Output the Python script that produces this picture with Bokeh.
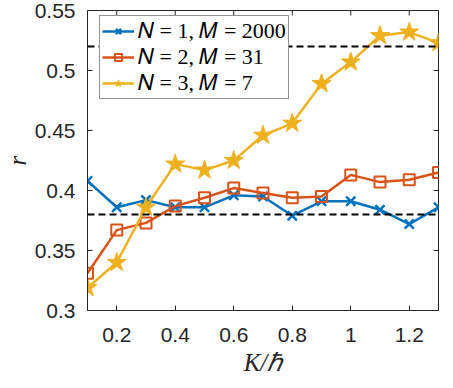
import math
from bokeh.plotting import figure
from bokeh.models import Span, FixedTicker, Range1d, Legend, LegendItem
from bokeh.embed import file_html
from bokeh.resources import INLINE

k_values = [0.1, 0.2, 0.3, 0.4, 0.5, 0.6, 0.7, 0.8, 0.9, 1.0, 1.1, 1.2, 1.3]
r_n1 = [0.408, 0.386, 0.392, 0.386, 0.386, 0.396, 0.395, 0.379, 0.391, 0.391, 0.384, 0.372, 0.386]
r_n2 = [0.331, 0.367, 0.373, 0.387, 0.394, 0.402, 0.398, 0.394, 0.395, 0.413, 0.407, 0.409, 0.415]
r_n3 = [0.319, 0.340, 0.386, 0.422, 0.417, 0.425, 0.446, 0.456, 0.489, 0.507, 0.529, 0.532, 0.523]
ref_levels = [0.52, 0.38]
series_labels = ["𝑁 = 1, 𝑀 = 2000", "𝑁 = 2, 𝑀 = 31", "𝑁 = 3, 𝑀 = 7"]
x_ticks = [0.2, 0.4, 0.6, 0.8, 1.0, 1.2]
x_tick_labels = ["0.2", "0.4", "0.6", "0.8", "1", "1.2"]
y_ticks = [0.3, 0.35, 0.4, 0.45, 0.5, 0.55]
y_tick_labels = ["0.3", "0.35", "0.4", "0.45", "0.5", "0.55"]

AX = "#262626"
BLUE, ORANGE, YELLOW = "#0072BD", "#D95319", "#EDB120"

x_range = Range1d(0.1, 1.3)
y_range = Range1d(0.3, 0.55)
p = figure(width=445, height=380, x_range=x_range, y_range=y_range,
           output_backend="svg", toolbar_location=None,
           min_border_left=83, min_border_right=7, min_border_top=10, min_border_bottom=70)
p.xgrid.visible = False
p.ygrid.visible = False
p.outline_line_color = AX
p.outline_line_width = 1

for ax, ticks, labels in ((p.xaxis[0], x_ticks, x_tick_labels), (p.yaxis[0], y_ticks, y_tick_labels)):
    ax.ticker = FixedTicker(ticks=ticks)
    ax.major_label_overrides = {t: l for t, l in zip(ticks, labels)}
    ax.major_tick_in = 5
    ax.major_tick_out = 0
    ax.minor_tick_in = 0
    ax.minor_tick_out = 0
    ax.axis_line_color = AX
    ax.major_tick_line_color = AX
    ax.major_label_text_color = AX
    ax.major_label_text_font = "Liberation Sans"
    ax.major_label_text_font_size = "21px"
    ax.axis_label_text_font = "Liberation Serif"
    ax.axis_label_text_font_style = "italic"
    ax.axis_label_text_font_size = "25px"
    ax.axis_label_text_color = AX

p.xaxis[0].axis_label = "K/ℏ"
p.yaxis[0].axis_label = "r"
p.xaxis[0].major_label_standoff = 17
p.xaxis[0].axis_label_standoff = 4
p.yaxis[0].major_label_standoff = 12
p.yaxis[0].axis_label_standoff = 1

# inward ticks on the top and right edges of the box
p.scatter(x_ticks, [y_range.end] * len(x_ticks), marker="dash", angle=math.pi / 2,
          size=10, line_color=AX, line_width=1)
p.scatter([x_range.end] * len(y_ticks), y_ticks, marker="dash",
          size=10, line_color=AX, line_width=1)

for lvl in ref_levels:
    p.add_layout(Span(location=lvl, dimension="width", line_color="black",
                      line_dash="7 4", line_width=1.8))

l1 = p.line(k_values, r_n1, line_color=BLUE, line_width=2.5)
m1 = p.scatter(k_values, r_n1, marker="x", size=13, line_color=BLUE, line_width=2.5)
l2 = p.line(k_values, r_n2, line_color=ORANGE, line_width=2.5)
m2 = p.scatter(k_values, r_n2, marker="square", size=11, line_color=ORANGE, line_width=2,
               fill_alpha=0)
l3 = p.line(k_values, r_n3, line_color=YELLOW, line_width=2.5)
m3 = p.scatter(k_values, r_n3, marker="star", size=20, line_color=YELLOW, fill_color=YELLOW)

legend = Legend(items=[LegendItem(label=series_labels[0], renderers=[l1, m1]),
                       LegendItem(label=series_labels[1], renderers=[l2, m2]),
                       LegendItem(label=series_labels[2], renderers=[l3, m3])],
                location=(12, 211), margin=0, border_line_color=AX, border_line_width=1,
                label_text_font="Liberation Serif", label_text_font_size="22px",
                label_text_color="black", glyph_width=32, glyph_height=18,
                label_standoff=4, spacing=0, padding=2, background_fill_alpha=1)
p.add_layout(legend)

open("out.html", "w").write(file_html(p, INLINE))
